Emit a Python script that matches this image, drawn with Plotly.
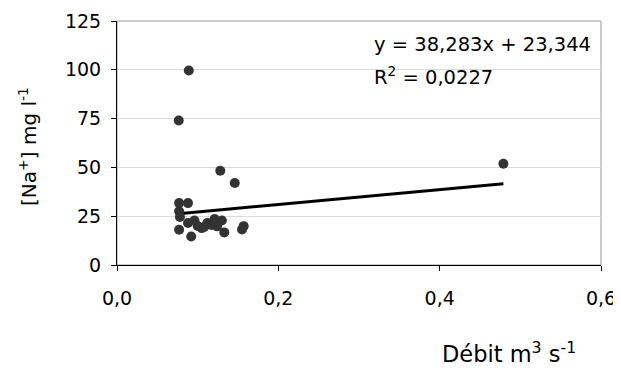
import plotly.graph_objects as go

# Data
debit = [0.089, 0.0765, 0.128, 0.146, 0.077, 0.088, 0.077, 0.078, 0.077, 0.092,
         0.088, 0.096, 0.105, 0.112, 0.117, 0.121, 0.130, 0.124, 0.133, 0.155,
         0.157, 0.100, 0.108, 0.479]
sodium = [99.6, 74.0, 48.3, 42.0, 31.7, 31.7, 27.5, 24.6, 18.1, 14.6,
          21.5, 22.8, 18.9, 21.5, 20.5, 23.6, 22.8, 19.8, 16.7, 18.2,
          19.9, 20.0, 19.5, 51.9]
slope = 38.283
intercept = 23.344
r2_text = "0,0227"
x_ticks = [0.0, 0.2, 0.4, 0.6]
x_tick_labels = ["0,0", "0,2", "0,4", "0,6"]
y_ticks = [0, 25, 50, 75, 100, 125]

xmin, xmax = min(debit), max(debit)
trend_x = [xmin, xmax]
trend_y = [slope * v + intercept for v in trend_x]

font = "DejaVu Sans, Liberation Sans, Arial, sans-serif"
fs = 19

# the page body has an 8px default margin; size the figure to fit the window
W, H = 613, 362
PL, PR, PT, PB = 117 - 8, 601 - 8, 21 - 8, 265 - 8  # plot area in figure pixels

def px(xp):  # page x -> paper x
    return (xp - 8 - PL) / (PR - PL)

def py(yp):  # page y -> paper y
    return (PB - (yp - 8)) / (PB - PT)

fig = go.Figure()
fig.add_trace(go.Scatter(x=trend_x, y=trend_y, mode="lines",
                         line=dict(color="black", width=3), hoverinfo="skip"))
fig.add_trace(go.Scatter(x=debit, y=sodium, mode="markers",
                         marker=dict(color="#333333", size=10, line=dict(width=0))))

fig.update_layout(
    width=W, height=H,
    margin=dict(l=PL, r=W - PR, t=PT, b=H - PB, pad=0, autoexpand=False),
    paper_bgcolor="white", plot_bgcolor="white",
    showlegend=False,
    font=dict(family=font, size=fs, color="black"),
    xaxis=dict(range=[0, 0.6], tickvals=x_ticks, ticktext=x_tick_labels,
               showgrid=False, zeroline=False, showline=True, linecolor="black",
               linewidth=1, ticks="outside", ticklen=5, tickcolor="black",
               tickfont=dict(size=fs), ticklabelstandoff=11, automargin=False),
    yaxis=dict(range=[0, 125], tickvals=y_ticks, showgrid=True,
               gridcolor="#d9d9d9", gridwidth=1, zeroline=False, showline=True,
               linecolor="black", linewidth=1, ticks="outside", ticklen=5,
               tickcolor="black", tickfont=dict(size=fs), ticklabelstandoff=6,
               automargin=False),
    shapes=[dict(type="rect", xref="paper", yref="paper", x0=0, y0=0, x1=1, y1=1,
                 line=dict(color="#999999", width=1), layer="below")],
    annotations=[
        dict(text=f"y = {str(slope).replace('.', ',')}x + {str(intercept).replace('.', ',')}",
             xref="paper", yref="paper", x=px(372), y=py(44),
             xanchor="left", yanchor="middle", showarrow=False, font=dict(size=19.5)),
        dict(text=f"R<sup>2</sup> = {r2_text}",
             xref="paper", yref="paper", x=px(372), y=py(76),
             xanchor="left", yanchor="middle", showarrow=False, font=dict(size=19.5)),
        dict(text="Débit m<sup>3</sup> s<sup>-1</sup>",
             xref="paper", yref="paper", x=px(578), y=py(352),
             xanchor="right", yanchor="middle", showarrow=False, font=dict(size=22.5)),
        dict(text="[Na<sup>+</sup>] mg l<sup>-1</sup>", textangle=-90,
             xref="paper", yref="paper", x=px(28), y=py(147),
             xanchor="center", yanchor="middle", showarrow=False, font=dict(size=20)),
    ],
)

fig.write_html("out.html")
